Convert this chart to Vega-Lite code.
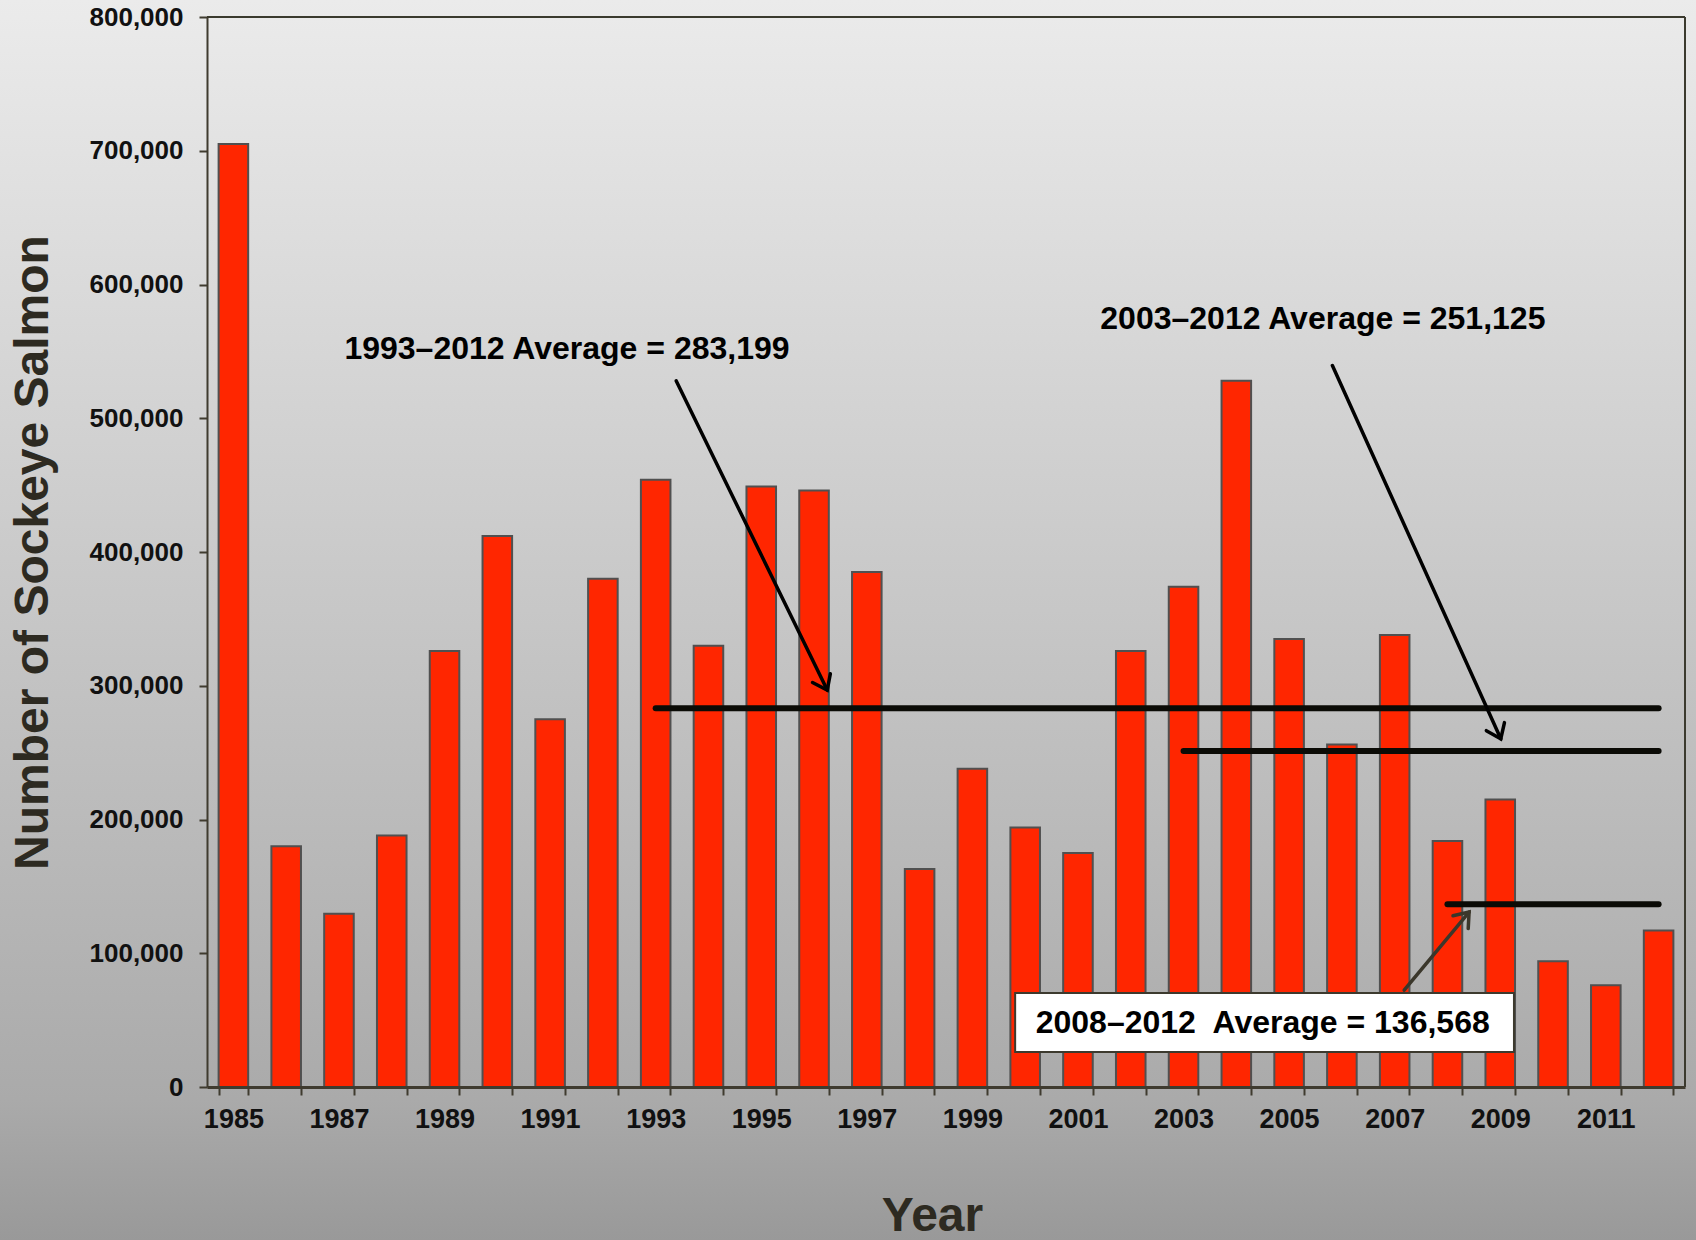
{
  "$schema": "https://vega.github.io/schema/vega-lite/v6.json",
  "width": 1478,
  "height": 1070,
  "autosize": {"type": "none"},
  "padding": {"left": 207, "top": 17, "right": 11, "bottom": 153},
  "background": "#a8a8a8",
  "config": {
    "view": {"stroke": null},
    "font": "Liberation Sans"
  },
  "resolve": {"scale": {"x": "independent", "y": "independent"}},
  "layer": [
    {
      "data": {"values": [{}]},
      "mark": {
        "type": "rect",
        "fill": {"gradient": "linear", "x1": 0, "y1": -0.0159, "x2": 0, "y2": 1.143,
          "stops": [{"offset": 0, "color": "#ebebeb"}, {"offset": 0.887, "color": "#aaaaaa"}, {"offset": 1, "color": "#999999"}]},
        "stroke": {"gradient": "linear", "x1": 0, "y1": -0.0159, "x2": 0, "y2": 1.143,
          "stops": [{"offset": 0, "color": "#ebebeb"}, {"offset": 0.887, "color": "#aaaaaa"}, {"offset": 1, "color": "#999999"}]},
        "strokeWidth": 480
      },
      "encoding": {}
    },
    {
      "data": {"values": [
        {"year": 1985, "count": 705000},
        {"year": 1986, "count": 180000},
        {"year": 1987, "count": 129500},
        {"year": 1988, "count": 188000},
        {"year": 1989, "count": 326000},
        {"year": 1990, "count": 412000},
        {"year": 1991, "count": 275000},
        {"year": 1992, "count": 380000},
        {"year": 1993, "count": 454000},
        {"year": 1994, "count": 330000},
        {"year": 1995, "count": 449000},
        {"year": 1996, "count": 446000},
        {"year": 1997, "count": 385000},
        {"year": 1998, "count": 163000},
        {"year": 1999, "count": 238000},
        {"year": 2000, "count": 194000},
        {"year": 2001, "count": 175000},
        {"year": 2002, "count": 326000},
        {"year": 2003, "count": 374000},
        {"year": 2004, "count": 528000},
        {"year": 2005, "count": 335000},
        {"year": 2006, "count": 256000},
        {"year": 2007, "count": 338000},
        {"year": 2008, "count": 184000},
        {"year": 2009, "count": 215000},
        {"year": 2010, "count": 94000},
        {"year": 2011, "count": 76000},
        {"year": 2012, "count": 117000}
      ]},
      "mark": {"type": "bar", "fill": "#ff2600", "stroke": "#505050", "strokeWidth": 2},
      "encoding": {
        "x": {
          "field": "year", "type": "ordinal",
          "scale": {"paddingInner": 0.44, "paddingOuter": 0.22},
          "axis": {
            "zindex": 2,
            "title": "Year",
            "titleX": 725,
            "labelAngle": 0,
            "labelExpr": "datum.value % 2 === 1 ? datum.label : ''",
            "labelOverlap": false,
            "labelFont": "Liberation Sans",
            "labelFontSize": 27,
            "labelFontWeight": "bold",
            "labelColor": "#111111",
            "labelPadding": 11,
            "tickBand": "extent",
            "tickSize": 8,
            "tickWidth": 2,
            "tickColor": "#3f3b2f",
            "domainColor": "#3f3b2f",
            "domainWidth": 3,
            "titleFont": "Liberation Sans",
            "titleFontSize": 48,
            "titleFontWeight": "bold",
            "titleColor": "#2d2a21",
            "titlePadding": 60
          }
        },
        "y": {
          "field": "count", "type": "quantitative",
          "scale": {"domain": [0, 800000], "nice": false},
          "axis": {
            "zindex": 2,
            "title": "Number of Sockeye Salmon",
            "values": [0, 100000, 200000, 300000, 400000, 500000, 600000, 700000, 800000],
            "format": ",d",
            "grid": false,
            "labelFlush": false,
            "labelFont": "Liberation Sans",
            "labelFontSize": 26,
            "labelFontWeight": "bold",
            "labelColor": "#111111",
            "labelPadding": 16,
            "tickSize": 8,
            "tickWidth": 2,
            "tickColor": "#3f3b2f",
            "domainColor": "#3f3b2f",
            "domainWidth": 2,
            "titleFont": "Liberation Sans",
            "titleFontSize": 48,
            "titleFontWeight": "bold",
            "titleColor": "#2d2a21",
            "titlePadding": 32
          }
        }
      }
    },
    {
      "data": {"values": [{}]},
      "mark": {"type": "rule", "color": "#3b3a2e", "strokeWidth": 2},
      "encoding": {"y": {"datum": 800000, "type": "quantitative", "scale": {"domain": [0, 800000], "nice": false}, "axis": null}}
    },
    {
      "data": {"values": [{}]},
      "mark": {"type": "rule", "color": "#3b3a2e", "strokeWidth": 2},
      "encoding": {"x": {"datum": 2012.5, "type": "quantitative", "scale": {"domain": [1984.5, 2012.5], "nice": false, "zero": false}, "axis": null}}
    },
    {
      "data": {"values": [
        {"from": 1993, "to": 2012, "avg": 283199},
        {"from": 2003, "to": 2012, "avg": 251125},
        {"from": 2008, "to": 2012, "avg": 136568}
      ]},
      "mark": {"type": "rule", "color": "#0b0b06", "strokeWidth": 6, "strokeCap": "round"},
      "encoding": {
        "x": {"field": "from", "type": "quantitative", "scale": {"domain": [1984.5, 2012.5], "nice": false, "zero": false}, "axis": null},
        "x2": {"field": "to"},
        "y": {"field": "avg", "type": "quantitative", "scale": {"domain": [0, 800000], "nice": false}, "axis": null}
      }
    },
    {
      "data": {"values": [
        {"id": "a", "fromYear": 1993.39, "fromValue": 527900, "toYear": 1996.25, "toValue": 296800},
        {"id": "b", "fromYear": 2005.82, "fromValue": 539400, "toYear": 2009.01, "toValue": 260400},
        {"id": "c", "fromYear": 2007.18, "fromValue": 72500, "toYear": 2008.41, "toValue": 130800}
      ]},
      "mark": {"type": "rule", "strokeWidth": 3.5, "strokeCap": "round"},
      "encoding": {
        "x": {"field": "fromYear", "type": "quantitative", "scale": {"domain": [1984.5, 2012.5], "nice": false, "zero": false}, "axis": null},
        "x2": {"field": "toYear"},
        "y": {"field": "fromValue", "type": "quantitative", "scale": {"domain": [0, 800000], "nice": false}, "axis": null},
        "y2": {"field": "toValue"},
        "color": {"field": "id", "type": "nominal", "scale": {"domain": ["a", "b", "c"], "range": ["#000000", "#000000", "#3b372b"]}, "legend": null}
      }
    },
    {
      "data": {"values": [{"toYear": 1996.25, "toValue": 296800}]},
      "mark": {"type": "point", "shape": "M -0.75 -1 L 0 0 L 0.75 -1", "filled": false, "stroke": "#000000", "strokeWidth": 3.5, "strokeCap": "round", "size": 700, "angle": 334, "opacity": 1},
      "encoding": {
        "x": {"field": "toYear", "type": "quantitative", "scale": {"domain": [1984.5, 2012.5], "nice": false, "zero": false}, "axis": null},
        "y": {"field": "toValue", "type": "quantitative", "scale": {"domain": [0, 800000], "nice": false}, "axis": null}
      }
    },
    {
      "data": {"values": [{"toYear": 2009.01, "toValue": 260400}]},
      "mark": {"type": "point", "shape": "M -0.75 -1 L 0 0 L 0.75 -1", "filled": false, "stroke": "#000000", "strokeWidth": 3.5, "strokeCap": "round", "size": 700, "angle": 336, "opacity": 1},
      "encoding": {
        "x": {"field": "toYear", "type": "quantitative", "scale": {"domain": [1984.5, 2012.5], "nice": false, "zero": false}, "axis": null},
        "y": {"field": "toValue", "type": "quantitative", "scale": {"domain": [0, 800000], "nice": false}, "axis": null}
      }
    },
    {
      "data": {"values": [{"toYear": 2008.41, "toValue": 130800}]},
      "mark": {"type": "point", "shape": "M -0.75 -1 L 0 0 L 0.75 -1", "filled": false, "stroke": "#3b372b", "strokeWidth": 3.5, "strokeCap": "round", "size": 700, "angle": 220, "opacity": 1},
      "encoding": {
        "x": {"field": "toYear", "type": "quantitative", "scale": {"domain": [1984.5, 2012.5], "nice": false, "zero": false}, "axis": null},
        "y": {"field": "toValue", "type": "quantitative", "scale": {"domain": [0, 800000], "nice": false}, "axis": null}
      }
    },
    {
      "data": {"values": [{"left": 1999.81, "right": 2009.26, "bottom": 26200, "top": 70300}]},
      "mark": {"type": "rect", "fill": "#ffffff", "stroke": "#3d3a2e", "strokeWidth": 2},
      "encoding": {
        "x": {"field": "left", "type": "quantitative", "scale": {"domain": [1984.5, 2012.5], "nice": false, "zero": false}, "axis": null},
        "x2": {"field": "right"},
        "y": {"field": "bottom", "type": "quantitative", "scale": {"domain": [0, 800000], "nice": false}, "axis": null},
        "y2": {"field": "top"}
      }
    },
    {
      "data": {"values": [
        {"label": "1993–2012 Average = 283,199", "xPos": 1991.32, "yPos": 551800},
        {"label": "2003–2012 Average = 251,125", "xPos": 2005.64, "yPos": 574200},
        {"label": "2008–2012\u00a0 Average = 136,568", "xPos": 2004.5, "yPos": 47850}
      ]},
      "mark": {"type": "text", "font": "Liberation Sans", "fontSize": 32, "fontWeight": "bold", "color": "#000000", "align": "center", "baseline": "middle"},
      "encoding": {
        "x": {"field": "xPos", "type": "quantitative", "scale": {"domain": [1984.5, 2012.5], "nice": false, "zero": false}, "axis": null},
        "y": {"field": "yPos", "type": "quantitative", "scale": {"domain": [0, 800000], "nice": false}, "axis": null},
        "text": {"field": "label"}
      }
    }
  ]
}
